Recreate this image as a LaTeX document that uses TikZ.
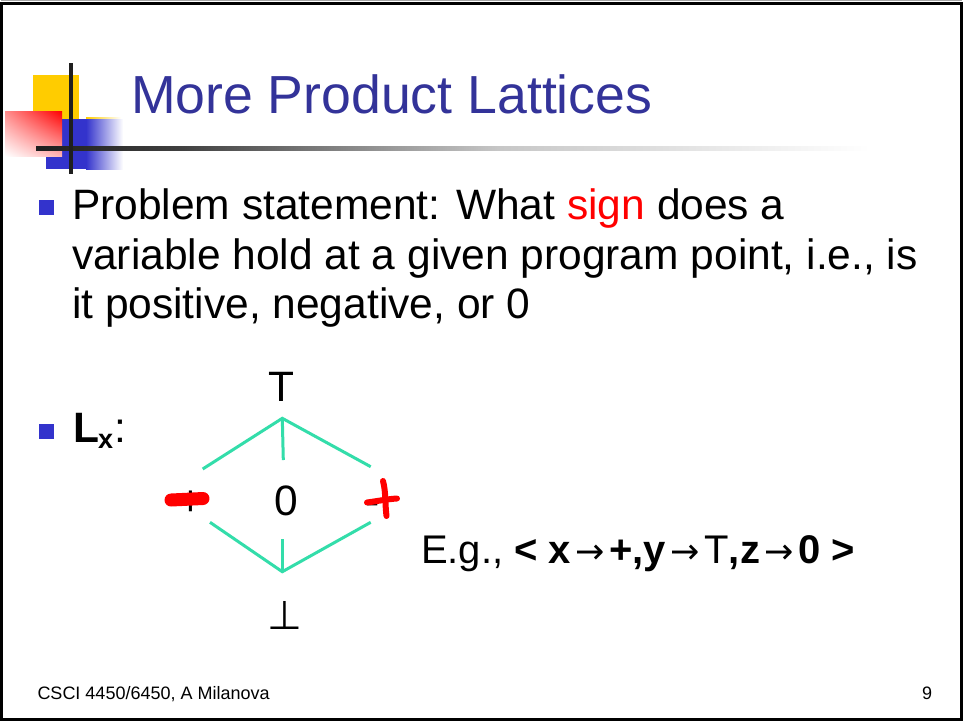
\documentclass[tikz,border=0pt]{standalone}
\usepackage{fontspec}
\usetikzlibrary{shadings}
\setmainfont{Liberation Sans}
\newfontfamily\dejavu{DejaVu Sans}
\definecolor{titleblue}{RGB}{51,51,153}
\definecolor{bulblue}{RGB}{51,51,204}
\definecolor{logoyellow}{RGB}{255,204,0}
\definecolor{latt}{RGB}{51,221,170}
\newcommand{\sarrow}{\hspace{4.5pt}{\dejavu\fontsize{35}{35}\selectfont→}\hspace{4.5pt}}
\begin{document}
\begin{tikzpicture}[x=1pt,y=-1pt,
  txt/.style={inner sep=0pt, outer sep=0pt, anchor=base west},
  body/.style={txt, font=\fontsize{42.5}{50}\selectfont},
  edge/.style={draw=latt, line width=3pt},
  bulletbox/.style={fill=bulblue, draw=none, inner sep=0pt, minimum size=15pt},
  redink/.style={draw=red, line cap=round, line join=round}
]
\useasboundingbox (0,0) rectangle (963,721);
\fill[white] (0,0) rectangle (963,721);
% frame
\draw[black!35, line width=1pt] (1,0.8) -- (962,0.8);
\draw[line width=3pt] (1.5,3.5) rectangle (961.5,719.5);
% logo
\fill[logoyellow] (33,75) rectangle (79,119);
\shade[left color=logoyellow, right color=white] (86,117.5) rectangle (121,119.5);
\fill[bulblue] (46,119) rectangle (86,169);
\shade[left color=bulblue, right color=white] (86,119) rectangle (123,169);
\shade[upper left=red!45, upper right=red, lower left=white, lower right=red!30] (5,111) rectangle (62,156);
\shade[left color=black!88, right color=black!75] (36,146) rectangle (180,150);
\shade[left color=black!75, right color=black!22] (180,146) rectangle (500,150);
\shade[left color=black!22, right color=white] (500,146) rectangle (870,150);
\fill[black!88] (69,63) rectangle (73,174);
% title
\node[txt, font=\fontsize{53.6}{60}\selectfont, text=titleblue] (title) at (131,113) {More Product Lattices};
% bullets and body
\node[bulletbox] (b1) at (46.5,207.5) {};
\node[body] (l1) at (72,219) {Problem statement: What \textcolor{red}{sign} does a};
\node[body] (l2) at (72,269) {variable hold at a given program point, i.e., is};
\node[body] (l3) at (72,318) {it positive, negative, or 0};
\node[bulletbox] (b2) at (46.5,431.5) {};
\node[body] (lx) at (73,442) {\textbf{L}};
\node[txt, font=\fontsize{27}{27}\selectfont\bfseries] (lxs) at (98,448) {x};
\node[body] (lxc) at (114,442) {:};
% lattice
\node[body, anchor=base] (top) at (281,401) {T};
\node[body, anchor=base] (zero) at (286.7,515) {0};
\node[body, anchor=base] (neg) at (191,515) {+};
\node[body, anchor=base] (pos) at (373,515) {-};
\node[anchor=base, inner sep=0pt, font=\dejavu\fontsize{40}{40}\selectfont] (bot) at (285,629) {⊥};
\coordinate (topj) at (282.3,418.3);
\coordinate (tl) at (202.7,469);
\coordinate (tm) at (283.3,460);
\coordinate (tr) at (370.7,466.7);
\coordinate (bl) at (210,522.3);
\coordinate (bm) at (282.3,539);
\coordinate (br) at (370.7,522.3);
\coordinate (botj) at (282.3,571.7);
\draw[edge] (tl) -- (topj) -- (tr);
\draw[edge] (topj) -- (tm);
\draw[edge] (bl) -- (botj) -- (br);
\draw[edge] (bm) -- (botj);
% red corrections
\draw[redink, line width=13pt] (171,500) -- (203,498.5);
\draw[redink, line width=6pt] (367,502.5) .. controls (378,501) and (388,499) .. (397,498.5);
\draw[redink, line width=6pt] (383,481) .. controls (386,492) and (385,505) .. (386.5,516);
% example
\node[txt, font=\fontsize{40}{48}\selectfont] (eg) at (421,563) {E.g., \textbf{< x}\sarrow\textbf{+,y}\sarrow T\textbf{,z}\sarrow\textbf{0 >}};
% footer
\node[txt, font=\fontsize{18}{20}\selectfont] (foot) at (37.5,699) {CSCI 4450/6450, A Milanova};
\node[txt, font=\fontsize{18}{20}\selectfont] (pg) at (922,699) {9};
\end{tikzpicture}
\end{document}
